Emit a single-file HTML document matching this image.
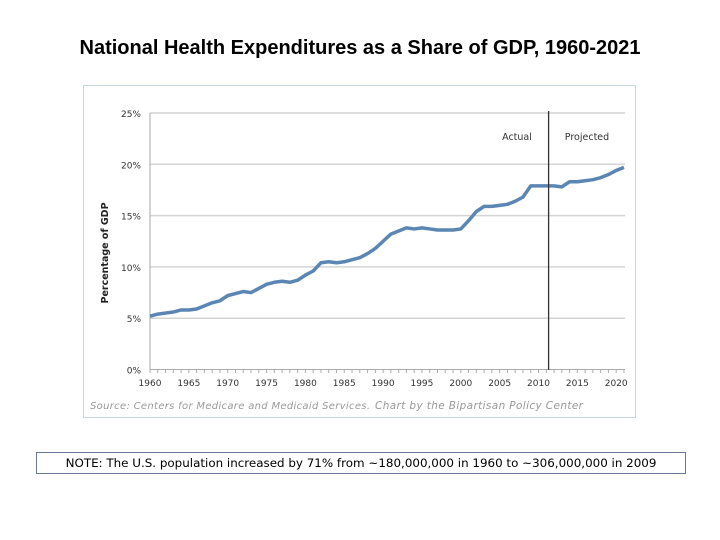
<!DOCTYPE html>
<html><head><meta charset="utf-8"><style>
body{margin:0;background:#fff;width:720px;height:540px;position:relative;font-family:"Liberation Sans",sans-serif;overflow:hidden}
#title{position:absolute;top:37px;left:0;width:720px;text-align:center;font-size:20px;font-weight:bold;color:#000}
#note{position:absolute;left:36px;top:452px;width:650px;height:22px;border:1px solid #6a7a95;font-family:"DejaVu Sans",sans-serif;font-size:11.9px;line-height:21px;text-align:center;color:#000;box-sizing:border-box;white-space:nowrap}
svg{position:absolute;left:0;top:0;font-family:"DejaVu Sans",sans-serif}
</style></head><body>
<div id="title">National Health Expenditures as a Share of GDP, 1960-2021</div>
<svg id="chart" width="720" height="540"></svg>
<div id="note">NOTE: The U.S. population increased by 71% from ~180,000,000 in 1960 to ~306,000,000 in 2009</div>
<script>
const years=[1960,1961,1962,1963,1964,1965,1966,1967,1968,1969,1970,1971,1972,1973,1974,1975,1976,1977,1978,1979,1980,1981,1982,1983,1984,1985,1986,1987,1988,1989,1990,1991,1992,1993,1994,1995,1996,1997,1998,1999,2000,2001,2002,2003,2004,2005,2006,2007,2008,2009,2010,2011,2012,2013,2014,2015,2016,2017,2018,2019,2020,2021];
const shareGDP=[5.2,5.4,5.5,5.6,5.8,5.8,5.9,6.2,6.5,6.7,7.2,7.4,7.6,7.5,7.9,8.3,8.5,8.6,8.5,8.7,9.2,9.6,10.4,10.5,10.4,10.5,10.7,10.9,11.3,11.8,12.5,13.2,13.5,13.8,13.7,13.8,13.7,13.6,13.6,13.6,13.7,14.5,15.4,15.9,15.9,16.0,16.1,16.4,16.8,17.9,17.9,17.9,17.9,17.8,18.3,18.3,18.4,18.5,18.7,19.0,19.4,19.7];
const yTicks=[0,5,10,15,20,25];
const xTickYears=[1960,1965,1970,1975,1980,1985,1990,1995,2000,2005,2010,2015,2020];
const splitYear=2011.3;
const NS='http://www.w3.org/2000/svg';
const svg=document.getElementById('chart');
const x=y=>150+(y-1960)*7.77;
const yv=v=>369.5-v*10.26;
function mk(t,a,p){const e=document.createElementNS(NS,t);for(const k in a)e.setAttribute(k,a[k]);(p||svg).appendChild(e);return e;}
let f=mk('rect',{x:83.5,y:85.5,width:552,height:332,fill:'#fff',stroke:'#c8d6e0'});


yTicks.forEach(v=>{
 if(v>0){const g=mk('line',{x1:150,x2:625,y1:yv(v),y2:yv(v),stroke:'#d4d4d4','stroke-width':1.5});
 
 }
 const t=mk('text',{x:141,y:yv(v)+4,'text-anchor':'end','font-size':9,fill:'#333'});t.textContent=v+'%';
 
 
});
const ax=mk('line',{x1:150,x2:150,y1:113,y2:370,stroke:'#aaa'});


const bx=mk('line',{x1:150,x2:625,y1:369.5,y2:369.5,stroke:'#aaa'});


for(let yr=1960;yr<=2021;yr++){mk('line',{x1:x(yr),x2:x(yr),y1:369.5,y2:373,stroke:'#aaa'});}
xTickYears.forEach(yr=>{const t=mk('text',{x:x(yr),y:386,'text-anchor':'middle','font-size':9,fill:'#333'});t.textContent=yr;
 
 });
const yt=mk('text',{transform:'translate(108,253) rotate(-90)','text-anchor':'middle','font-size':9.5,'font-weight':'bold',fill:'#222'});yt.textContent='Percentage of GDP';


const pts=years.map((yr,i)=>x(yr)+','+yv(shareGDP[i])).join(' ');
const pl=mk('polyline',{points:pts,fill:'none',stroke:'#5b86b4','stroke-width':3.5,'stroke-linejoin':'round'});


const vl=mk('line',{x1:x(splitYear),x2:x(splitYear),y1:111,y2:370,stroke:'#333','stroke-width':1.3});


const a=mk('text',{x:517,y:140,'text-anchor':'middle','font-size':9.5,fill:'#333'});a.textContent='Actual';


const p=mk('text',{x:587,y:140,'text-anchor':'middle','font-size':9.5,fill:'#333'});p.textContent='Projected';


const s=mk('text',{x:90,y:409,'font-size':10,'font-style':'italic',fill:'#999',textLength:280});s.textContent='Source: Centers for Medicare and Medicaid Services.';


const c=mk('text',{x:375,y:409,'font-size':10.5,'font-style':'italic',fill:'#999',textLength:208});c.textContent='Chart by the Bipartisan Policy Center';


</script>
</body></html>
